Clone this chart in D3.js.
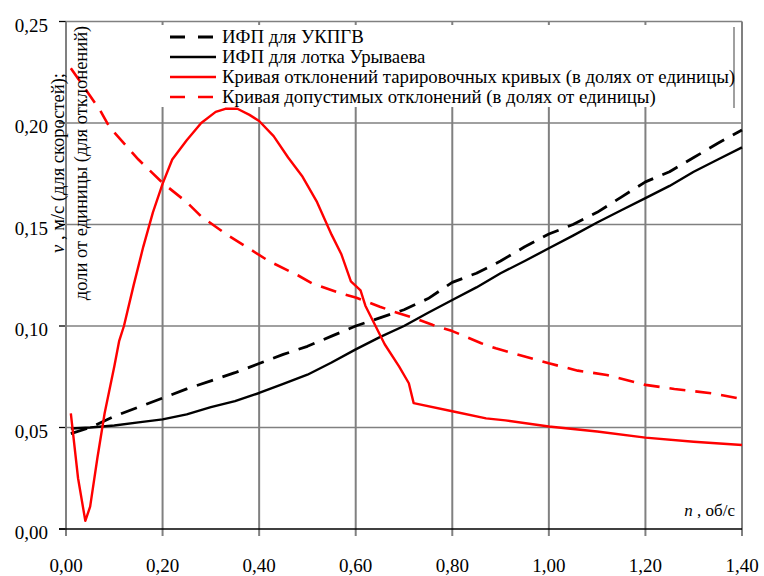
<!DOCTYPE html>
<html>
<head>
<meta charset="utf-8">
<title>ИФП и кривые отклонений</title>
<script src="https://d3js.org/d3.v7.min.js"></script>
<style>
    body {
        margin: 0;
        background: #fff;
    }
    #chart svg {
        display: block;
    }
</style>
</head>
<body>
<div id="chart"></div>
<script>
    // ИФП для УКПГВ (n, об/с -> v, м/с)
    const ukpgvN = [0.01, 0.05, 0.10, 0.15, 0.20, 0.25, 0.30, 0.35, 0.40, 0.45, 0.50, 0.55, 0.60, 0.65, 0.70, 0.75, 0.80, 0.85, 0.90, 0.95, 1.00, 1.05, 1.10, 1.15, 1.20, 1.25, 1.30, 1.35, 1.40];
    const ukpgvV = [0.047, 0.050, 0.0555, 0.060, 0.0645, 0.069, 0.073, 0.077, 0.0815, 0.086, 0.090, 0.095, 0.100, 0.104, 0.108, 0.1135, 0.1215, 0.126, 0.132, 0.139, 0.1453, 0.150, 0.156, 0.1635, 0.171, 0.176, 0.183, 0.190, 0.1966];

    // ИФП для лотка Урываева
    const uryvN = [0.01, 0.05, 0.10, 0.15, 0.20, 0.25, 0.30, 0.35, 0.40, 0.45, 0.50, 0.55, 0.60, 0.65, 0.70, 0.75, 0.80, 0.85, 0.90, 0.95, 1.00, 1.05, 1.10, 1.15, 1.20, 1.25, 1.30, 1.35, 1.40];
    const uryvV = [0.0495, 0.050, 0.051, 0.0525, 0.054, 0.0565, 0.060, 0.063, 0.067, 0.0715, 0.076, 0.082, 0.0885, 0.0945, 0.100, 0.1065, 0.1128, 0.119, 0.126, 0.132, 0.1383, 0.1445, 0.151, 0.157, 0.163, 0.169, 0.176, 0.182, 0.188];

    // Кривая отклонений тарировочных кривых
    const devN = [0.01, 0.025, 0.04, 0.05, 0.065, 0.08, 0.10, 0.11, 0.12, 0.14, 0.16, 0.18, 0.20, 0.22, 0.25, 0.28, 0.31, 0.33, 0.355, 0.38, 0.40, 0.43, 0.46, 0.49, 0.52, 0.55, 0.57, 0.59, 0.61, 0.62, 0.66, 0.69, 0.71, 0.72, 0.80, 0.87, 0.91, 1.00, 1.10, 1.20, 1.30, 1.40];
    const devV = [0.057, 0.025, 0.004, 0.011, 0.035, 0.057, 0.080, 0.0925, 0.100, 0.120, 0.139, 0.156, 0.170, 0.182, 0.1915, 0.200, 0.2055, 0.207, 0.207, 0.204, 0.201, 0.1935, 0.183, 0.1735, 0.161, 0.145, 0.1355, 0.122, 0.1175, 0.110, 0.091, 0.080, 0.0718, 0.062, 0.058, 0.0545, 0.0535, 0.0505, 0.048, 0.045, 0.043, 0.0414];

    // Кривая допустимых отклонений
    const allowN = [0.01, 0.07, 0.09, 0.15, 0.20, 0.25, 0.28, 0.33, 0.37, 0.42, 0.48, 0.51, 0.57, 0.60, 0.65, 0.68, 0.72, 0.76, 0.80, 0.86, 0.89, 0.95, 1.00, 1.06, 1.12, 1.20, 1.26, 1.34, 1.40];
    const allowV = [0.227, 0.2065, 0.198, 0.182, 0.1705, 0.161, 0.154, 0.1455, 0.1395, 0.132, 0.125, 0.121, 0.116, 0.114, 0.1095, 0.107, 0.104, 0.1005, 0.0975, 0.0915, 0.089, 0.085, 0.0816, 0.078, 0.0759, 0.071, 0.069, 0.0668, 0.064];

    const xTicks = [0, 0.2, 0.4, 0.6, 0.8, 1.0, 1.2, 1.4];
    const yTicks = [0, 0.05, 0.10, 0.15, 0.20, 0.25];

    const seriesNames = [
        "ИФП для УКПГВ",
        "ИФП для лотка Урываева",
        "Кривая отклонений тарировочных кривых (в долях от единицы)",
        "Кривая допустимых отклонений (в долях от единицы)"
    ];

    const width = 764, height = 576;
    const plotLeft = 66, plotRight = 742, plotTop = 21.5, plotBottom = 529;
    const serif = "'Liberation Serif', 'Times New Roman', Tinos, 'DejaVu Serif', serif";

    const x = d3.scaleLinear().domain([0, 1.4]).range([plotLeft, plotRight]);
    const y = d3.scaleLinear().domain([0, 0.25]).range([plotBottom, plotTop]);
    const fmt = d => d3.format(".2f")(d).replace(".", ",");

    const series = [
        { name: seriesNames[0], n: ukpgvN, v: ukpgvV, color: "#000", dash: "17,10", w: 2.8 },
        { name: seriesNames[1], n: uryvN, v: uryvV, color: "#000", dash: null, w: 2.4 },
        { name: seriesNames[2], n: devN, v: devV, color: "#ff0000", dash: null, w: 2.4 },
        { name: seriesNames[3], n: allowN, v: allowV, color: "#ff0000", dash: "16,10", w: 2.6 }
    ];

    const svg = d3.select("#chart").append("svg")
        .attr("width", width)
        .attr("height", height)
        .attr("font-family", serif);

    // horizontal grid + left ticks
    svg.append("g").selectAll("line")
        .data(yTicks.filter(d => d > 0))
        .join("line")
        .attr("x1", plotLeft).attr("x2", plotRight)
        .attr("y1", d => y(d)).attr("y2", d => y(d))
        .attr("stroke", "#808080").attr("stroke-width", 1.3);

    svg.append("g").selectAll("line")
        .data(yTicks)
        .join("line")
        .attr("x1", plotLeft - 7).attr("x2", plotLeft)
        .attr("y1", d => y(d)).attr("y2", d => y(d))
        .attr("stroke", "#000").attr("stroke-width", 1.3);

    // vertical grid (also runs below the axis as tick marks)
    svg.append("g").selectAll("line")
        .data(xTicks)
        .join("line")
        .attr("x1", d => x(d)).attr("x2", d => x(d))
        .attr("y1", plotTop).attr("y2", plotBottom + 7)
        .attr("stroke", "#808080").attr("stroke-width", 2);

    // x axis
    svg.append("line")
        .attr("x1", plotLeft - 7).attr("x2", plotRight)
        .attr("y1", y(0)).attr("y2", y(0))
        .attr("stroke", "#000").attr("stroke-width", 1.6);

    // tick labels
    svg.append("g").attr("font-size", 19).attr("text-anchor", "end")
        .selectAll("text").data(yTicks).join("text")
        .attr("x", 48).attr("y", d => y(d) + 10)
        .text(fmt);

    svg.append("g").attr("font-size", 19).attr("text-anchor", "middle")
        .selectAll("text").data(xTicks).join("text")
        .attr("x", d => x(d)).attr("y", 572)
        .text(fmt);

    // series
    const line = d3.line().x(d => x(d[0])).y(d => y(d[1]));
    svg.append("g").selectAll("path")
        .data(series)
        .join("path")
        .attr("d", s => line(d3.zip(s.n, s.v)))
        .attr("fill", "none")
        .attr("stroke", s => s.color)
        .attr("stroke-width", s => s.w)
        .attr("stroke-dasharray", s => s.dash)
        .attr("stroke-linejoin", "round");

    // axis titles
    const xt = svg.append("text")
        .attr("x", 735).attr("y", 516)
        .attr("text-anchor", "end")
        .attr("font-size", 17);
    xt.append("tspan").attr("font-style", "italic").text("n");
    xt.append("tspan").text(" , об/с");

    const yt = svg.append("g")
        .attr("transform", "translate(0,163) rotate(-90)")
        .attr("text-anchor", "middle")
        .attr("font-size", 18.5);
    const yl1 = yt.append("text").attr("x", 0).attr("y", 64);
    yl1.append("tspan").attr("font-style", "italic").text("v");
    yl1.append("tspan").text(" , м/с (для скоростей);");
    yt.append("text").attr("x", 0).attr("y", 87)
        .text("доли от единицы (для отклонений)");

    // legend
    const lg = svg.append("g");
    lg.append("rect")
        .attr("x", 150).attr("y", 25)
        .attr("width", 585).attr("height", 82)
        .attr("fill", "#fff");
    lg.append("line")
        .attr("x1", 734).attr("x2", 734)
        .attr("y1", 27).attr("y2", 108)
        .attr("stroke", "#808080").attr("stroke-width", 1.5);

    const item = lg.selectAll("g.item")
        .data(series)
        .join("g")
        .attr("class", "item")
        .attr("transform", (d, i) => `translate(0,${37 + i * 20})`);
    item.append("line")
        .attr("x1", 170).attr("x2", 216)
        .attr("stroke", d => d.color)
        .attr("stroke-width", d => d.w)
        .attr("stroke-dasharray", d => d.dash ? "15,13" : null);
    item.append("text")
        .attr("x", 222).attr("y", 6)
        .attr("font-size", 18.8)
        .text(d => d.name);
</script>
</body>
</html>
